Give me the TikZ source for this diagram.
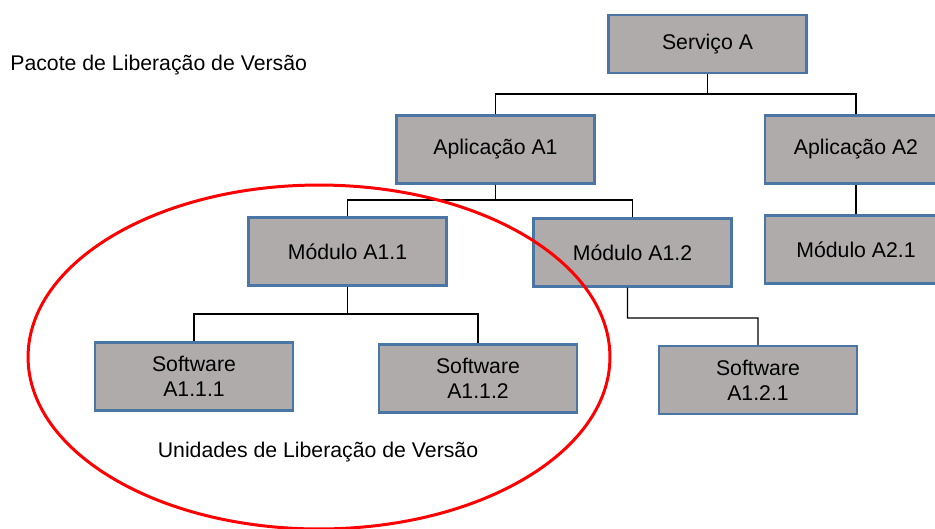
\documentclass[tikz,border=0pt]{standalone}
\usepackage{fontspec}
\setmainfont{Liberation Sans}
\usepackage{xcolor}
\usepackage{tikz}
\usetikzlibrary{shapes}

\definecolor{caixacinza}{RGB}{175,171,171}
\definecolor{bordaazul}{RGB}{74,118,166}

\begin{document}
\begin{tikzpicture}
[x=0.02cm,y=-0.02cm]
\tikzset{
	bloco/.style = {rectangle, draw=bordaazul, fill=caixacinza, line width=1.3pt,
		minimum width=3.96cm, minimum height=1.36cm, align=center, inner sep=1pt,
		font=\fontsize{12.1}{14.4}\selectfont},
	liga/.style = {draw=black, line width=0.7pt},
	legenda/.style = {font=\fontsize{12.1}{14.4}\selectfont, inner sep=0pt}
}

\clip (0,0) rectangle (935,528);

% level 0
\node(serv) [bloco, minimum height=1.16cm] at (707.5,44) {Serviço A};

% level 1
\node(apa1) [bloco] at (495.5,149.5) {Aplicação A1};
\node(apa2) [bloco, minimum width=3.64cm] at (856,149.5) {Aplicação A2};

% level 2
\node(moda11) [bloco] at (347.5,251.5) {Módulo A1.1};
\node(moda12) [bloco] at (632.5,252.5) {Módulo A1.2};
\node(moda21) [bloco, minimum width=3.64cm] at (856,249.5) {Módulo A2.1};

% level 3
\node(sofa111) [bloco] at (194,376.5) {Software\\A1.1.1};
\node(sofa112) [bloco] at (478,378.5) {Software\\A1.1.2};
\node(sofa121) [bloco] at (758,380) {Software\\A1.2.1};

% elbow links
\draw [liga] (serv.south) -- (707.5,94) -| (apa1.north);
\draw [liga] (serv.south) -- (707.5,94) -| (apa2.north);
\draw [liga] (apa1.south) -- (495.5,200) -| (moda11.north);
\draw [liga] (apa1.south) -- (495.5,200) -| (moda12.north);
\draw [liga] (moda11.south) -- (347.5,314) -| (sofa111.north);
\draw [liga] (moda11.south) -- (347.5,314) -| (sofa112.north);
\draw [liga] ([xshift=-0.1cm]moda12.south) -- (627.5,318) -| (sofa121.north);
\draw [liga] (apa2.south) -- (moda21.north);

% release grouping
\draw [red, line width=1.7pt] (319,357) ellipse [x radius=5.82cm, y radius=3.44cm];

\node(pacote) [legenda, anchor=west] at (10,65) {Pacote de Liberação de Versão};
\node(unidades) [legenda] at (318,452) {Unidades de Liberação de Versão};

\end{tikzpicture}
\end{document}
